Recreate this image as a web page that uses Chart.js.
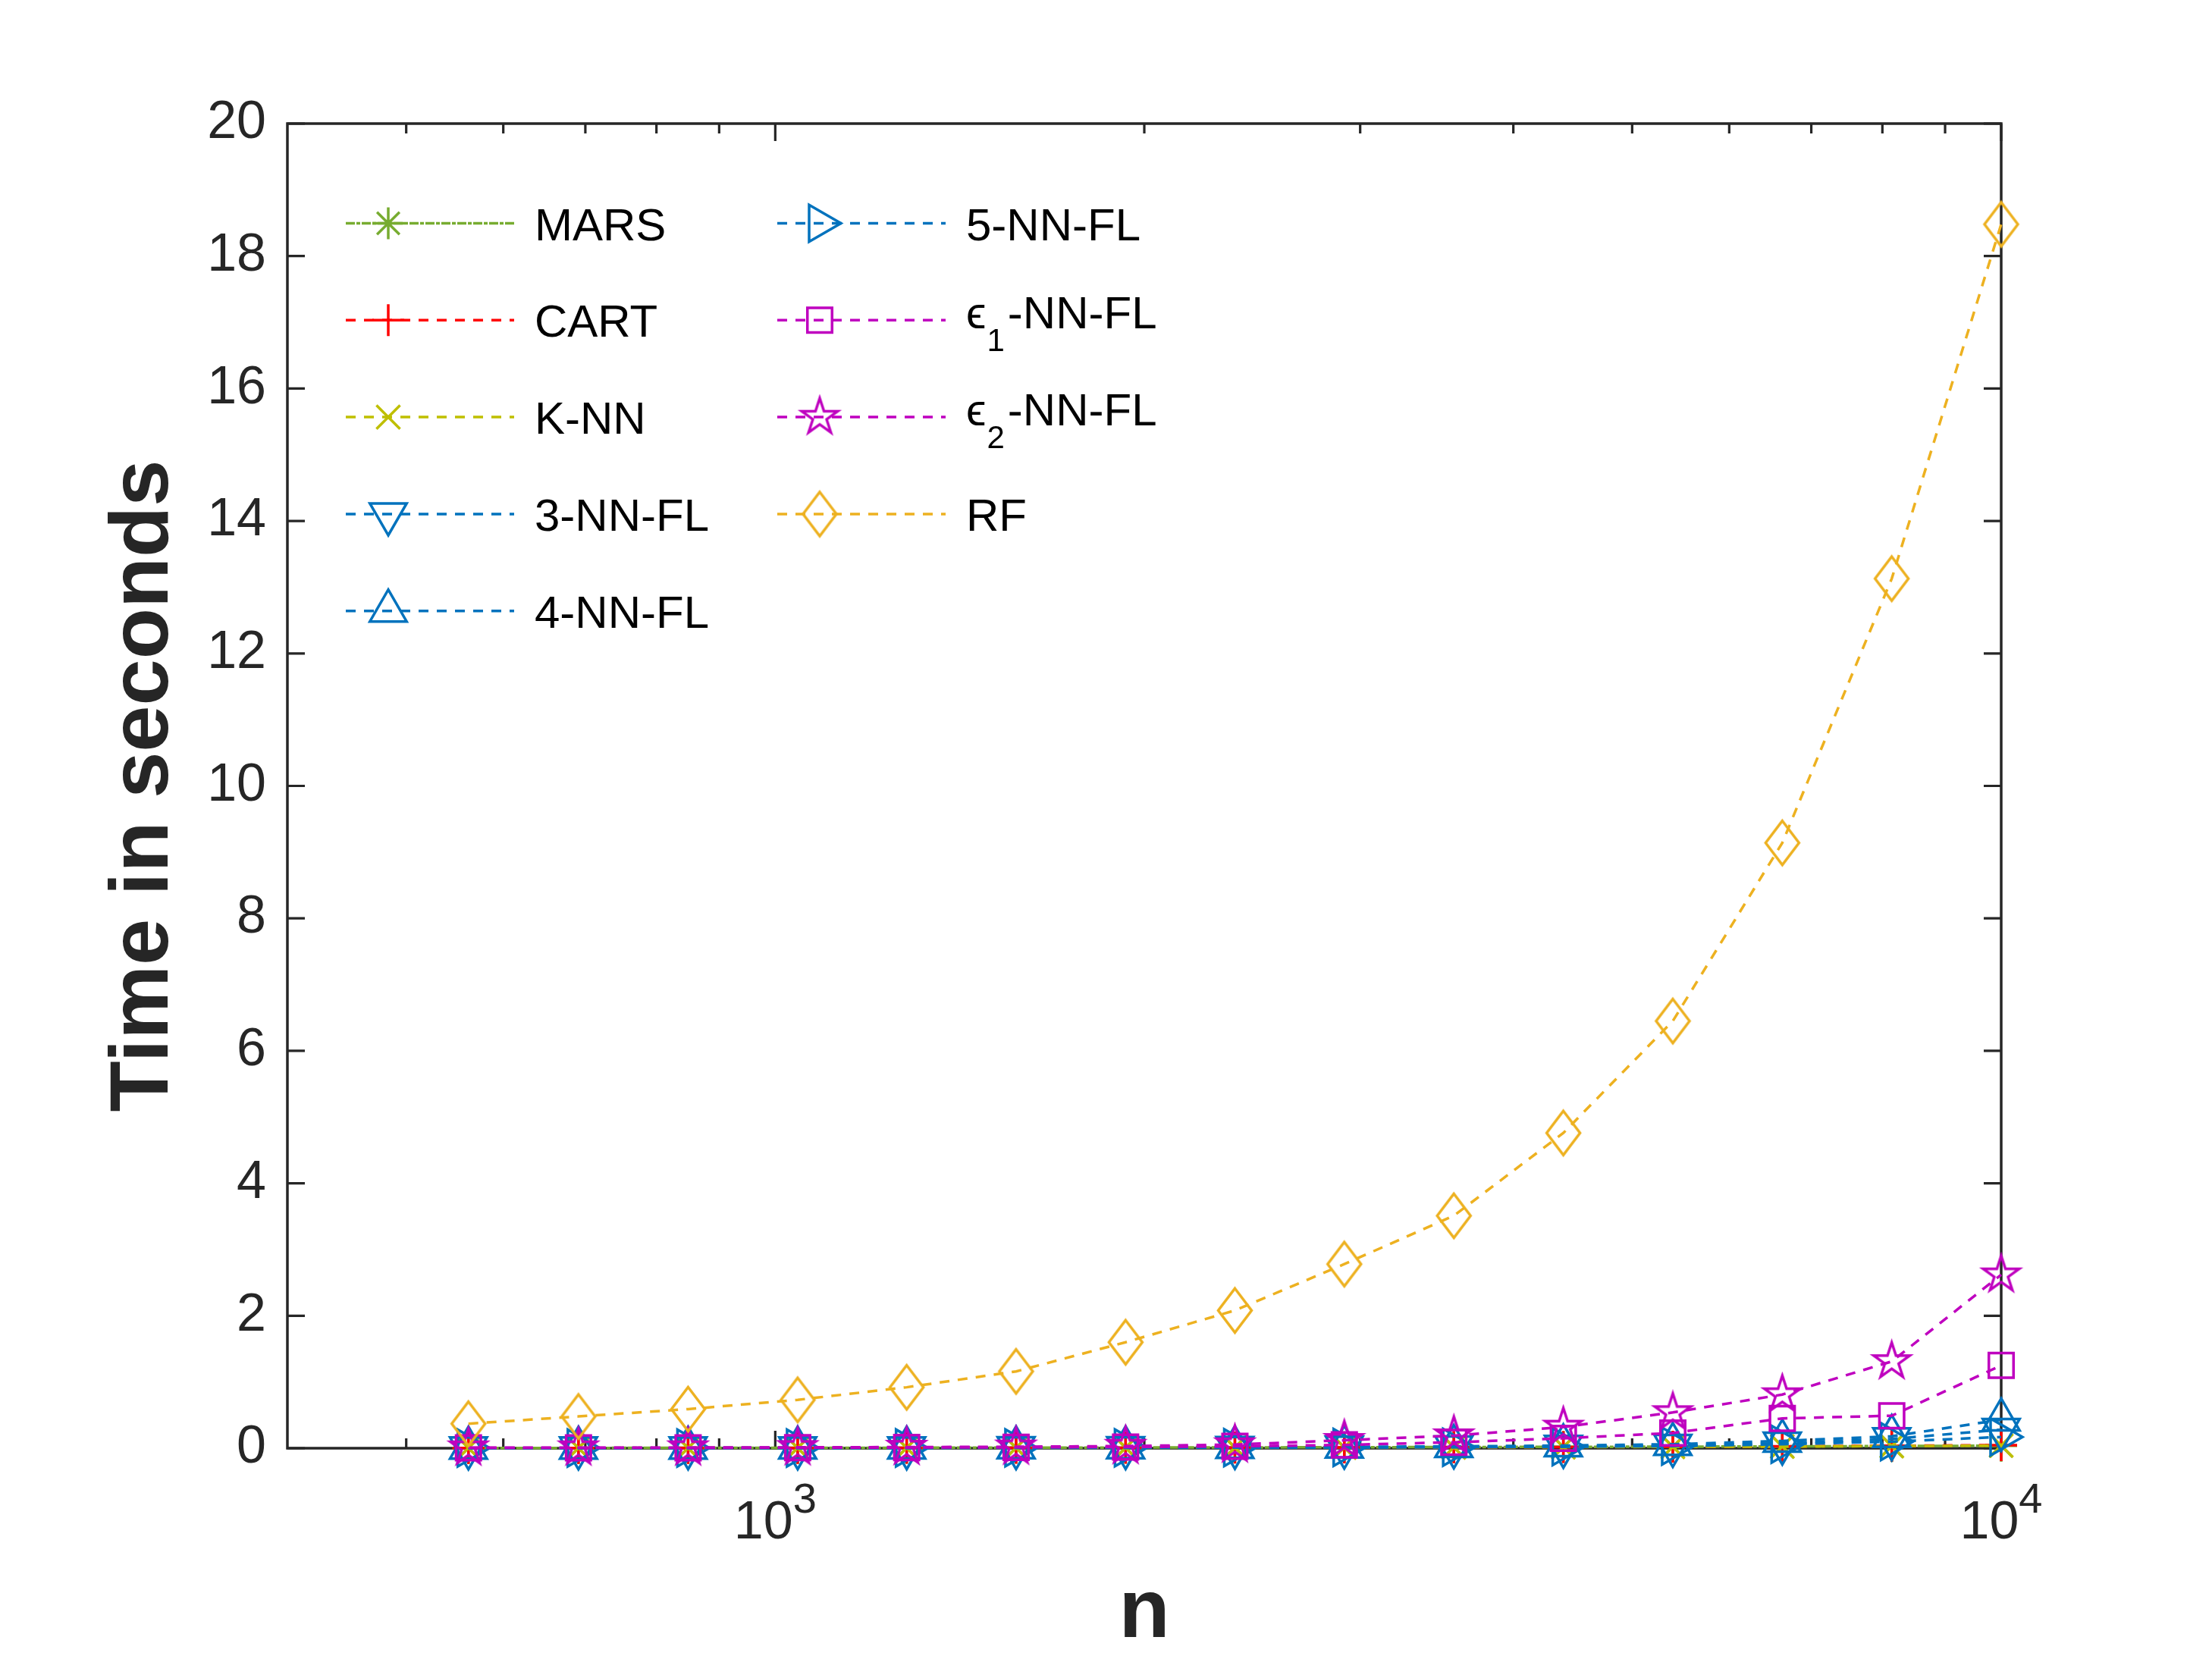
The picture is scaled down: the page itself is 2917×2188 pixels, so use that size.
<!DOCTYPE html>
<html>
<head>
<meta charset="utf-8">
<script src="https://cdn.jsdelivr.net/npm/chart.js@4"></script>
<style>
  html, body { margin: 0; padding: 0; background: #ffffff; }
  canvas { display: block; }
</style>
</head>
<body>
<canvas id="c" width="2917" height="2188" style="width:2917px;height:2188px"></canvas>
<script>
// ---------------- data ----------------
const nValues   = [562, 691, 849, 1043, 1280, 1572, 1931, 2371, 2912, 3577, 4394, 5397, 6629, 8142, 10000];
const marsTime  = [0.004, 0.004, 0.005, 0.006, 0.007, 0.008, 0.010, 0.012, 0.014, 0.017, 0.020, 0.023, 0.027, 0.032, 0.038];
const cartTime  = [0.003, 0.003, 0.004, 0.004, 0.005, 0.006, 0.007, 0.009, 0.011, 0.014, 0.018, 0.022, 0.028, 0.036, 0.047];
const knnTime   = [0.002, 0.002, 0.003, 0.003, 0.004, 0.005, 0.006, 0.008, 0.010, 0.013, 0.016, 0.020, 0.025, 0.032, 0.040];
const nn3Time   = [0.002, 0.002, 0.003, 0.003, 0.004, 0.005, 0.007, 0.009, 0.013, 0.018, 0.027, 0.040, 0.075, 0.140, 0.280];
const nn4Time   = [0.003, 0.003, 0.004, 0.005, 0.006, 0.008, 0.010, 0.014, 0.020, 0.028, 0.040, 0.060, 0.110, 0.180, 0.430];
const nn5Time   = [0.002, 0.002, 0.003, 0.003, 0.004, 0.005, 0.006, 0.008, 0.011, 0.015, 0.022, 0.032, 0.060, 0.100, 0.170];
const eps1Time  = [0.005, 0.005, 0.006, 0.008, 0.010, 0.013, 0.018, 0.028, 0.050, 0.090, 0.150, 0.230, 0.450, 0.490, 1.250];
const eps2Time  = [0.008, 0.009, 0.010, 0.013, 0.017, 0.022, 0.032, 0.055, 0.120, 0.190, 0.320, 0.540, 0.810, 1.310, 2.620];
const rfTime    = [0.37, 0.48, 0.59, 0.73, 0.92, 1.16, 1.60, 2.08, 2.78, 3.51, 4.76, 6.45, 9.14, 13.13, 18.48];

const seriesLabels = ['MARS', 'CART', 'K-NN', '3-NN-FL', '4-NN-FL', '5-NN-FL', '\u03F5_1-NN-FL', '\u03F5_2-NN-FL', 'RF'];
const seriesValues = [marsTime, cartTime, knnTime, nn3Time, nn4Time, nn5Time, eps1Time, eps2Time, rfTime];

const yTicks = [0, 2, 4, 6, 8, 10, 12, 14, 16, 18, 20];
const xMajorTicks = [1000, 10000];
const xMajorExponents = ['3', '4'];
const xMinorTicks = [500, 600, 700, 800, 900, 2000, 3000, 4000, 5000, 6000, 7000, 8000, 9000];
const xLabel = 'n';
const yLabel = 'Time in seconds';

// ---------------- styles ----------------
const AXC = '#262626';
const FONT = '"Liberation Sans", Arial, Helvetica, sans-serif';
const LW = 3.5;

function makePentagram(color, R, lw) {
  const s = Math.ceil(2 * R + 2 * lw + 4);
  const c = document.createElement('canvas'); c.width = s; c.height = s;
  const g = c.getContext('2d');
  const r = R * 0.382;
  g.strokeStyle = color; g.lineWidth = lw; g.lineJoin = 'miter';
  g.beginPath();
  for (let k = 0; k < 10; k++) {
    const ang = -Math.PI / 2 + k * Math.PI / 5;
    const rr = (k % 2) ? r : R;
    const px = s / 2 + rr * Math.cos(ang), py = s / 2 + rr * Math.sin(ang);
    if (k) g.lineTo(px, py); else g.moveTo(px, py);
  }
  g.closePath(); g.stroke();
  return c;
}
function makeDiamond(color, hw, hh, lw) {
  const w = Math.ceil(2 * hw + 2 * lw + 4), h = Math.ceil(2 * hh + 2 * lw + 4);
  const c = document.createElement('canvas'); c.width = w; c.height = h;
  const g = c.getContext('2d');
  g.strokeStyle = color; g.lineWidth = lw;
  g.beginPath();
  g.moveTo(w / 2, h / 2 - hh); g.lineTo(w / 2 + hw, h / 2);
  g.lineTo(w / 2, h / 2 + hh); g.lineTo(w / 2 - hw, h / 2);
  g.closePath(); g.stroke();
  return c;
}

const seriesStyles = [
  { color: '#77AC30', dash: [12, 2, 5, 2], point: 'star',     rot: 0,   r: 21 },
  { color: '#FF0000', dash: [13, 11],      point: 'cross',    rot: 0,   r: 21 },
  { color: '#BFBF00', dash: [13, 11],      point: 'crossRot', rot: 0,   r: 22 },
  { color: '#0072BD', dash: [13, 11],      point: 'triangle', rot: 180, r: 28 },
  { color: '#0072BD', dash: [13, 11],      point: 'triangle', rot: 0,   r: 28 },
  { color: '#0072BD', dash: [13, 11],      point: 'triangle', rot: 90,  r: 28 },
  { color: '#BF00BF', dash: [13, 11],      point: 'rect',     rot: 0,   r: 23 },
  { color: '#BF00BF', dash: [13, 11],      point: null,       rot: 0,   r: 25 },
  { color: '#EDB120', dash: [13, 11],      point: null,       rot: 0,   r: 28 }
];
seriesStyles[7].point = makePentagram('#BF00BF', 25, LW);
seriesStyles[8].point = makeDiamond('#EDB120', 22, 29, LW);

const datasets = seriesLabels.map((lab, i) => {
  const st = seriesStyles[i];
  return {
    label: lab,
    data: nValues.map((n, k) => ({ x: n, y: seriesValues[i][k] })),
    borderColor: st.color,
    borderWidth: LW,
    borderDash: st.dash,
    backgroundColor: 'rgba(0,0,0,0)',
    fill: false,
    tension: 0,
    pointStyle: st.point,
    pointRotation: st.rot,
    pointRadius: st.r,
    pointBorderWidth: LW,
    pointBorderColor: st.color,
    pointBackgroundColor: 'rgba(0,0,0,0)',
    clip: false,
    order: seriesLabels.length - i
  };
});

// ---------------- marker drawing for legend ----------------
function drawMarker(ctx, style, rot, r, x, y, color, lw) {
  ctx.save();
  ctx.translate(x, y);
  ctx.rotate(rot * Math.PI / 180);
  if (style && typeof style === 'object') {
    ctx.drawImage(style, -style.width / 2, -style.height / 2);
    ctx.restore();
    return;
  }
  ctx.strokeStyle = color; ctx.lineWidth = lw; ctx.setLineDash([]);
  ctx.beginPath();
  const d = r * Math.SQRT1_2;
  if (style === 'triangle') {
    for (let k = 0; k < 3; k++) {
      const a = k * 2 * Math.PI / 3;
      const px = Math.sin(a) * r, py = -Math.cos(a) * r;
      if (k) ctx.lineTo(px, py); else ctx.moveTo(px, py);
    }
    ctx.closePath();
  } else if (style === 'rect') {
    ctx.rect(-d, -d, 2 * d, 2 * d);
  } else {
    if (style === 'cross' || style === 'star') {
      ctx.moveTo(0, -r); ctx.lineTo(0, r); ctx.moveTo(-r, 0); ctx.lineTo(r, 0);
    }
    if (style === 'crossRot' || style === 'star') {
      ctx.moveTo(-d, -d); ctx.lineTo(d, d); ctx.moveTo(-d, d); ctx.lineTo(d, -d);
    }
  }
  ctx.stroke();
  ctx.restore();
}

function drawLabel(ctx, text, x, lineY) {
  // supports a single subscript written as "_c"
  const mainFont = '60px ' + FONT, subFont = '42px ' + FONT;
  const idx = text.indexOf('_');
  ctx.font = mainFont;
  if (idx < 0) { ctx.fillText(text, x, lineY + 22); return; }
  const base = lineY + 11;
  const pre = text.slice(0, idx), sub = text.charAt(idx + 1), post = text.slice(idx + 2);
  ctx.fillText(pre, x, base);
  let cx = x + ctx.measureText(pre).width + 1;
  ctx.font = subFont;
  ctx.fillText(sub, cx, base + 30);
  cx += ctx.measureText(sub).width + 4;
  ctx.font = mainFont;
  ctx.fillText(post, cx, base);
}

const matlabPlugin = {
  id: 'matlabAxes',
  beforeDatasetsDraw(chart) {
    const { ctx, chartArea: a, scales: { x, y } } = chart;
    ctx.save();
    ctx.strokeStyle = AXC; ctx.lineWidth = 3.2; ctx.setLineDash([]);
    ctx.beginPath();
    yTicks.forEach(v => {
      const py = y.getPixelForValue(v);
      ctx.moveTo(a.left, py); ctx.lineTo(a.left + 23, py);
      ctx.moveTo(a.right, py); ctx.lineTo(a.right - 23, py);
    });
    xMajorTicks.forEach(v => {
      const px = x.getPixelForValue(v);
      ctx.moveTo(px, a.bottom); ctx.lineTo(px, a.bottom - 23);
      ctx.moveTo(px, a.top); ctx.lineTo(px, a.top + 23);
    });
    xMinorTicks.forEach(v => {
      const px = x.getPixelForValue(v);
      ctx.moveTo(px, a.bottom); ctx.lineTo(px, a.bottom - 13);
      ctx.moveTo(px, a.top); ctx.lineTo(px, a.top + 13);
    });
    ctx.stroke();
    ctx.lineWidth = 3.5;
    ctx.strokeRect(a.left, a.top, a.right - a.left, a.bottom - a.top);
    ctx.restore();
  },
  afterDraw(chart) {
    const { ctx, chartArea: a, scales: { x } } = chart;
    ctx.save();
    // x tick labels with superscript exponent
    ctx.fillStyle = AXC;
    ctx.textBaseline = 'alphabetic';
    ctx.textAlign = 'left';
    xMajorTicks.forEach((v, i) => {
      const px = x.getPixelForValue(v);
      ctx.font = '70px ' + FONT;
      const w1 = ctx.measureText('10').width;
      ctx.font = '56px ' + FONT;
      const w2 = ctx.measureText(xMajorExponents[i]).width;
      const x0 = px - (w1 + w2) / 2;
      ctx.font = '70px ' + FONT;
      ctx.fillText('10', x0, a.bottom + 119);
      ctx.font = '56px ' + FONT;
      ctx.fillText(xMajorExponents[i], x0 + w1, a.bottom + 85);
    });
    // legend (two columns, inside the axes, no box)
    const rowY0 = a.top + 131.5, dy = 127.8;
    const cols = [a.left + 77, a.left + 646];
    const lineLen = 222, markOff = 56, textOff = 249;
    seriesLabels.forEach((lab, i) => {
      const col = i < 5 ? 0 : 1;
      const row = i < 5 ? i : i - 5;
      const lx = cols[col], ly = rowY0 + row * dy;
      const st = seriesStyles[i];
      ctx.save();
      ctx.strokeStyle = st.color; ctx.lineWidth = LW; ctx.setLineDash(st.dash);
      ctx.beginPath(); ctx.moveTo(lx, ly); ctx.lineTo(lx + lineLen, ly); ctx.stroke();
      ctx.restore();
      drawMarker(ctx, st.point, st.rot, st.r, lx + markOff, ly, st.color, LW);
      ctx.fillStyle = '#000000';
      ctx.textAlign = 'left';
      ctx.textBaseline = 'alphabetic';
      drawLabel(ctx, lab, lx + textOff, ly);
    });
    ctx.restore();
  }
};

Chart.defaults.font.family = FONT;
Chart.defaults.color = AXC;

new Chart(document.getElementById('c'), {
  type: 'line',
  data: { datasets },
  options: {
    responsive: false,
    devicePixelRatio: 1,
    animation: false,
    events: [],
    layout: { padding: { left: 0, top: 163, right: 278, bottom: 0 } },
    plugins: { legend: { display: false }, tooltip: { enabled: false } },
    scales: {
      x: {
        type: 'logarithmic',
        min: 400,
        max: 10000,
        grid: { display: false, drawTicks: false },
        border: { display: false },
        ticks: { display: false },
        title: {
          display: true, text: xLabel, color: AXC,
          font: { size: 110, weight: 'bold', lineHeight: 1 },
          padding: { top: 0, bottom: 4 }
        },
        afterFit(s) { s.height = 278; }
      },
      y: {
        type: 'linear',
        min: 0,
        max: 20,
        grid: { display: false, drawTicks: false },
        border: { display: false },
        ticks: { stepSize: 2, color: AXC, padding: 28, font: { size: 70, lineHeight: 1 } },
        title: {
          display: true, text: yLabel, color: AXC,
          font: { size: 110, weight: 'bold', lineHeight: 1 },
          padding: { top: 136, bottom: 0 }
        },
        afterFit(s) { s.width = 379; }
      }
    }
  },
  plugins: [matlabPlugin]
});
</script>
</body>
</html>
